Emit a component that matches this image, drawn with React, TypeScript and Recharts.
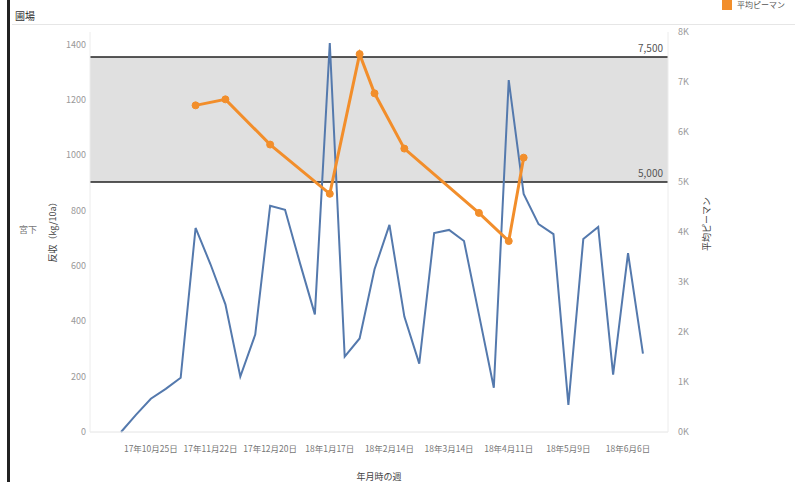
import { LineChart, Line, XAxis, YAxis, CartesianGrid, ReferenceArea, ReferenceLine } from 'recharts'

// weekly categories (年月時の週)
const weeks = [
  '17年10月11日', '17年10月18日', '17年10月25日', '17年11月1日', '17年11月8日', '17年11月15日',
  '17年11月22日', '17年11月29日', '17年12月6日', '17年12月13日', '17年12月20日', '17年12月27日',
  '18年1月3日', '18年1月10日', '18年1月17日', '18年1月24日', '18年1月31日', '18年2月7日',
  '18年2月14日', '18年2月21日', '18年2月28日', '18年3月7日', '18年3月14日', '18年3月21日',
  '18年3月28日', '18年4月4日', '18年4月11日', '18年4月18日', '18年4月25日', '18年5月2日',
  '18年5月9日', '18年5月16日', '18年5月23日', '18年5月30日', '18年6月6日', '18年6月13日',
]

// weeks that carry a tick label (every 4th week)
const tickLabels = [
  '17年10月25日', '17年11月22日', '17年12月20日', '18年1月17日', '18年2月14日',
  '18年3月14日', '18年4月11日', '18年5月9日', '18年6月6日',
]

// 反収 (kg/10a), left axis
const yieldKg = [
  0, 62, 120, 156, 196, 737, 606, 461, 200, 352, 817, 803,
  610, 425, 1405, 272, 338, 588, 748, 417, 247, 719, 730, 690,
  425, 160, 1271, 860, 751, 715, 98, 697, 741, 207, 646, 283,
]

// 平均ピーマン, right axis (null = no value that week)
const pepperAvg: (number | null)[] = [
  null, null, null, null, null, 6533, null, 6653, null, null, 5749, null,
  null, null, 4764, null, 7558, 6774, null, 5668, null, null, null, null,
  4382, null, 3819, 5487, null, null, null, null, null, null, null, null,
]

const leftTicks = [0, 200, 400, 600, 800, 1000, 1200, 1400]
const rightTicks = [0, 1000, 2000, 3000, 4000, 5000, 6000, 7000, 8000]
const bandLow = 5000
const bandHigh = 7500

const data = weeks.map((w, i) => ({ idx: i, week: w, yield: yieldKg[i], pepper: pepperAvg[i] }))
const tickIdx = tickLabels.map(t => weeks.indexOf(t))

const FONT = '"Noto Sans CJK JP", "Noto Sans", sans-serif'
const BLUE = '#5479ad'
const ORANGE = '#f28e2b'

export default function App() {
  return (
    <div style={{ position: 'absolute', left: 0, top: 0, width: 795, height: 482, background: '#fff', fontFamily: FONT, overflow: 'hidden' }}>
      <LineChart
        width={795}
        height={482}
        data={data}
        margin={{ top: 32, right: 67, bottom: 0, left: 0 }}
        style={{ position: 'absolute', left: 0, top: 0, fontFamily: FONT }}
      >
        <ReferenceArea yAxisId="right" y1={bandLow} y2={bandHigh} fill="#d6d6d6" fillOpacity={0.75} stroke="none" />
        <CartesianGrid yAxisId="left" vertical={false} stroke="#ffffff" strokeWidth={1.5} />
        <ReferenceLine
          yAxisId="right"
          y={bandHigh}
          stroke="#222"
          strokeWidth={1.5}
          label={{ value: '7,500', position: 'insideBottomRight', offset: 5, fontSize: 10, fill: '#555' }}
        />
        <ReferenceLine
          yAxisId="right"
          y={bandLow}
          stroke="#222"
          strokeWidth={1.5}
          label={{ value: '5,000', position: 'insideBottomRight', offset: 5, fontSize: 10, fill: '#555' }}
        />
        <XAxis
          dataKey="idx"
          type="number"
          domain={[-2.08, 36.68]}
          ticks={tickIdx}
          interval={0}
          allowDataOverflow
          tickFormatter={(i: number) => weeks[i] ?? ''}
          tickLine={false}
          tickSize={0}
          tickMargin={14}
          axisLine={{ stroke: '#e4e4e4' }}
          tick={{ fontSize: 8.5, fill: '#777' }}
          height={50}
          label={{ value: '年月時の週', position: 'insideBottom', offset: 2, fontSize: 9, fill: '#444' }}
        />
        <YAxis
          yAxisId="left"
          domain={[0, 1445]}
          ticks={leftTicks}
          width={90}
          tickLine={false}
          tickSize={0}
          tickMargin={4}
          axisLine={{ stroke: '#ececec' }}
          tick={{ fontSize: 9, fill: '#999' }}
          label={{ value: '反収（kg/10a）', angle: -90, position: 'center', dx: 8, dy: -2, fontSize: 9, fill: '#444' }}
        />
        <YAxis
          yAxisId="right"
          orientation="right"
          domain={[0, 8000]}
          ticks={rightTicks}
          width={60}
          tickLine={false}
          tickSize={0}
          tickMargin={10}
          axisLine={{ stroke: '#ececec' }}
          tick={{ fontSize: 9, fill: '#999' }}
          tickFormatter={(v: number) => `${v / 1000}K`}
          label={{ value: '平均ピーマン', angle: -90, position: 'center', dx: 9, dy: -8, fontSize: 9, fill: '#444' }}
        />
        <Line
          yAxisId="left"
          dataKey="yield"
          stroke={BLUE}
          strokeWidth={2}
          dot={false}
          isAnimationActive={false}
        />
        <Line
          yAxisId="right"
          dataKey="pepper"
          stroke={ORANGE}
          strokeWidth={3}
          connectNulls
          dot={{ r: 3.5, fill: ORANGE, stroke: ORANGE, strokeWidth: 1 }}
          isAnimationActive={false}
        />
      </LineChart>
      {/* left border of the sheet */}
      <div style={{ position: 'absolute', left: 7, top: 0, width: 3, height: 482, background: '#222' }} />
      {/* column header */}
      <div style={{ position: 'absolute', left: 15, top: 8, fontSize: 10, color: '#333', whiteSpace: 'nowrap' }}>圃場</div>
      <div style={{ position: 'absolute', left: 12, top: 24, width: 783, height: 1, background: '#e6e6e6' }} />
      {/* row header */}
      <svg width={40} height={20} style={{ position: 'absolute', left: 14, top: 220 }}>
        <text x={5} y={13} fontSize={9} fill="#777" fontFamily={FONT}>宮下</text>
      </svg>
      {/* legend */}
      <div style={{ position: 'absolute', left: 722, top: -1, display: 'flex', alignItems: 'center', fontSize: 8, color: '#555', whiteSpace: 'nowrap' }}>
        <span style={{ display: 'inline-block', width: 10, height: 10, background: ORANGE, marginRight: 5 }} />
        平均ピーマン
      </div>
    </div>
  )
}
